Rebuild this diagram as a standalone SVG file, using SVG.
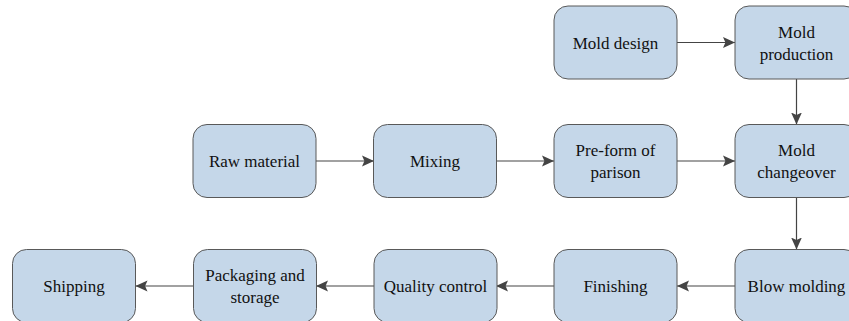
<svg xmlns="http://www.w3.org/2000/svg" width="849" height="321" viewBox="0 0 849 321">
  <defs>
    <style>
      .box { fill: #c5d7e9; stroke: #595959; stroke-width: 1; }
      .lbl { font-size: 17px; fill: #111; text-anchor: middle; }
      .edge { stroke: #444; stroke-width: 1.2; fill: none; marker-end: url(#arrow); }
    </style>
    <marker id="arrow" markerUnits="userSpaceOnUse" markerWidth="12" markerHeight="12" viewBox="0 0 10 10" refX="10" refY="5" orient="auto">
      <path d="M0,0.5 L10,5 L0,9.5 L2,5 Z" fill="#444"/>
    </marker>
  </defs>
  <rect width="849" height="321" fill="#ffffff"/>

  <!-- connectors -->
  <g id="connectors">
    <line class="edge" x1="677" y1="42.5" x2="735" y2="42.5"/>
    <line class="edge" x1="796.5" y1="79" x2="796.5" y2="124.5"/>
    <line class="edge" x1="316" y1="161" x2="374" y2="161"/>
    <line class="edge" x1="496" y1="161" x2="554" y2="161"/>
    <line class="edge" x1="677" y1="161" x2="735" y2="161"/>
    <line class="edge" x1="796.5" y1="197.5" x2="796.5" y2="249.5"/>
    <line class="edge" x1="735" y1="286" x2="677" y2="286"/>
    <line class="edge" x1="554" y1="286" x2="496" y2="286"/>
    <line class="edge" x1="374" y1="286" x2="316" y2="286"/>
    <line class="edge" x1="193.5" y1="286" x2="135.5" y2="286"/>
  </g>

  <g id="nodes" font-family="'Liberation Serif', 'Times New Roman', 'DejaVu Serif', serif">
    <!-- top row -->
    <g id="mold-design">
      <rect class="box" x="554" y="6" width="123" height="73" rx="14"/>
      <text class="lbl" x="615.5" y="48.5">Mold design</text>
    </g>
    <g id="mold-production">
      <rect class="box" x="735" y="6" width="123" height="73" rx="14"/>
      <text class="lbl" x="796.5" y="37.5">Mold</text>
      <text class="lbl" x="796.5" y="59.5">production</text>
    </g>

    <!-- middle row -->
    <g id="raw-material">
      <rect class="box" x="193" y="124.5" width="123" height="73" rx="14"/>
      <text class="lbl" x="254.5" y="167">Raw material</text>
    </g>
    <g id="mixing">
      <rect class="box" x="373.5" y="124.5" width="123" height="73" rx="14"/>
      <text class="lbl" x="435" y="167">Mixing</text>
    </g>
    <g id="pre-form">
      <rect class="box" x="554" y="124.5" width="123" height="73" rx="14"/>
      <text class="lbl" x="615.5" y="156">Pre-form of</text>
      <text class="lbl" x="615.5" y="178">parison</text>
    </g>
    <g id="mold-changeover">
      <rect class="box" x="735" y="124.5" width="123" height="73" rx="14"/>
      <text class="lbl" x="796.5" y="156">Mold</text>
      <text class="lbl" x="796.5" y="178">changeover</text>
    </g>

    <!-- bottom row -->
    <g id="shipping">
      <rect class="box" x="12.5" y="249.5" width="123" height="73" rx="14"/>
      <text class="lbl" x="74" y="292">Shipping</text>
    </g>
    <g id="packaging">
      <rect class="box" x="193.5" y="249.5" width="123" height="73" rx="14"/>
      <text class="lbl" x="255" y="281">Packaging and</text>
      <text class="lbl" x="255" y="303">storage</text>
    </g>
    <g id="quality-control">
      <rect class="box" x="374" y="249.5" width="123" height="73" rx="14"/>
      <text class="lbl" x="435.5" y="292">Quality control</text>
    </g>
    <g id="finishing">
      <rect class="box" x="554" y="249.5" width="123" height="73" rx="14"/>
      <text class="lbl" x="615.5" y="292">Finishing</text>
    </g>
    <g id="blow-molding">
      <rect class="box" x="735" y="249.5" width="123" height="73" rx="14"/>
      <text class="lbl" x="796.5" y="292">Blow molding</text>
    </g>
  </g>
</svg>
